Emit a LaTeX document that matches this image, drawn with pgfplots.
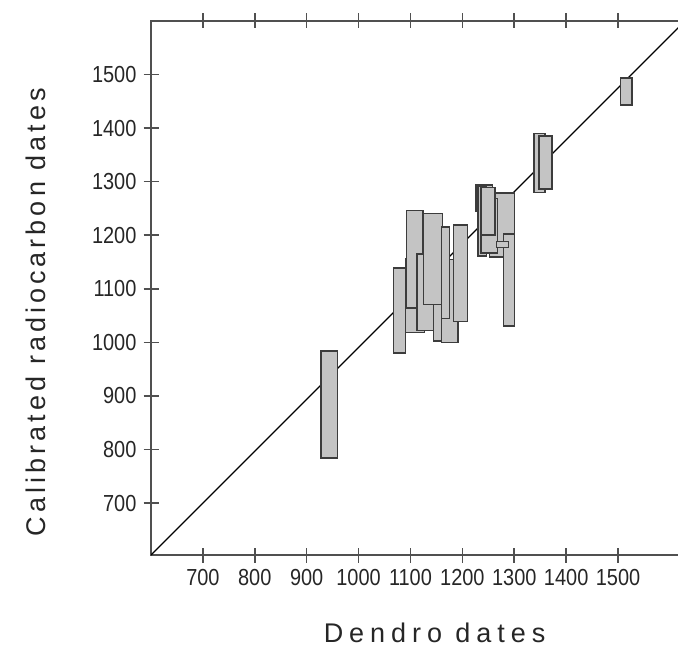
\documentclass[border=0pt]{standalone}
\usepackage{fontspec}
\setmainfont{Liberation Sans}
\newfontfamily\tickfont[FakeStretch=0.86]{Liberation Sans}
\newfontfamily\xlabfont[LetterSpace=22]{Liberation Sans}
\newfontfamily\ylabfont[LetterSpace=15]{Liberation Sans}
\usepackage{pgfplots}
\pgfplotsset{compat=1.18}

\definecolor{boxfill}{HTML}{C4C4C4}
\definecolor{boxline}{HTML}{3C3C3C}
\definecolor{axisline}{HTML}{505050}

% one calibrated range: dendro from-to, cal from-to
\newcommand\dbox[4]{%
  \addplot[fill=boxfill, draw=boxline, line width=0.75pt]
    coordinates {(#1,#3) (#2,#3) (#2,#4) (#1,#4)} -- cycle;}

\begin{document}
\begin{tikzpicture}
\useasboundingbox (0,0) rectangle (339pt,324pt);
\clip (0,0) rectangle (339pt,324pt);
\begin{axis}[
    at={(75.5pt,46.5pt)}, anchor=south west,
    scale only axis, width=267pt, height=267pt,
    xmin=600, xmax=1629, ymin=603, ymax=1600,
    xtick={700,800,...,1500},
    ytick={700,800,...,1500},
    tick align=center,
    major tick length=7.5pt,
    axis line style={axisline, line width=1pt},
    every tick/.style={axisline, line width=0.8pt},
    tick label style={font=\tickfont\fontsize{11.6}{12}\selectfont, text=black!85},
    /pgf/number format/assume math mode=true,
    /pgf/number format/1000 sep={},
    xlabel={Dendro dates},
    ylabel={Calibrated radiocarbon dates},
    xlabel style={at={(axis description cs:0.531,-0.163)}, anchor=base,
                  font=\xlabfont\fontsize{13.5}{14}\selectfont, text=black!85},
    ylabel style={at={(axis description cs:-0.197,0.455)}, anchor=base,
                  font=\ylabfont\fontsize{13.5}{14}\selectfont, text=black!85},
]

% line of agreement
\addplot[black, line width=0.7pt] coordinates {(600,603) (1629,1600)};

% single ones
\dbox{928}{959}{784}{984}
\dbox{1505}{1527}{1443}{1494}

% cluster 1050-1210
\dbox{1067}{1090}{980}{1139}
\dbox{1090}{1127}{1018}{1157}
\dbox{1092}{1124}{1064}{1246}
\dbox{1113}{1146}{1022}{1165}
\dbox{1125}{1162}{1071}{1241}
\dbox{1144}{1160}{1003}{1071}
\dbox{1160}{1192}{1000}{1155}
\dbox{1160}{1175}{1045}{1215}
\dbox{1183}{1210}{1039}{1219}

% cluster 1220-1300
\dbox{1252}{1300}{1159}{1279}
\dbox{1226}{1258}{1244}{1294}
\dbox{1230}{1246}{1161}{1292}
\dbox{1236}{1268}{1167}{1269}
\dbox{1236}{1263}{1200}{1289}
\dbox{1279}{1300}{1031}{1202}
\dbox{1266}{1289}{1177}{1188}

% pair near 1300
\dbox{1338}{1359}{1280}{1390}
\dbox{1348}{1373}{1286}{1385}

\end{axis}
\end{tikzpicture}
\end{document}
